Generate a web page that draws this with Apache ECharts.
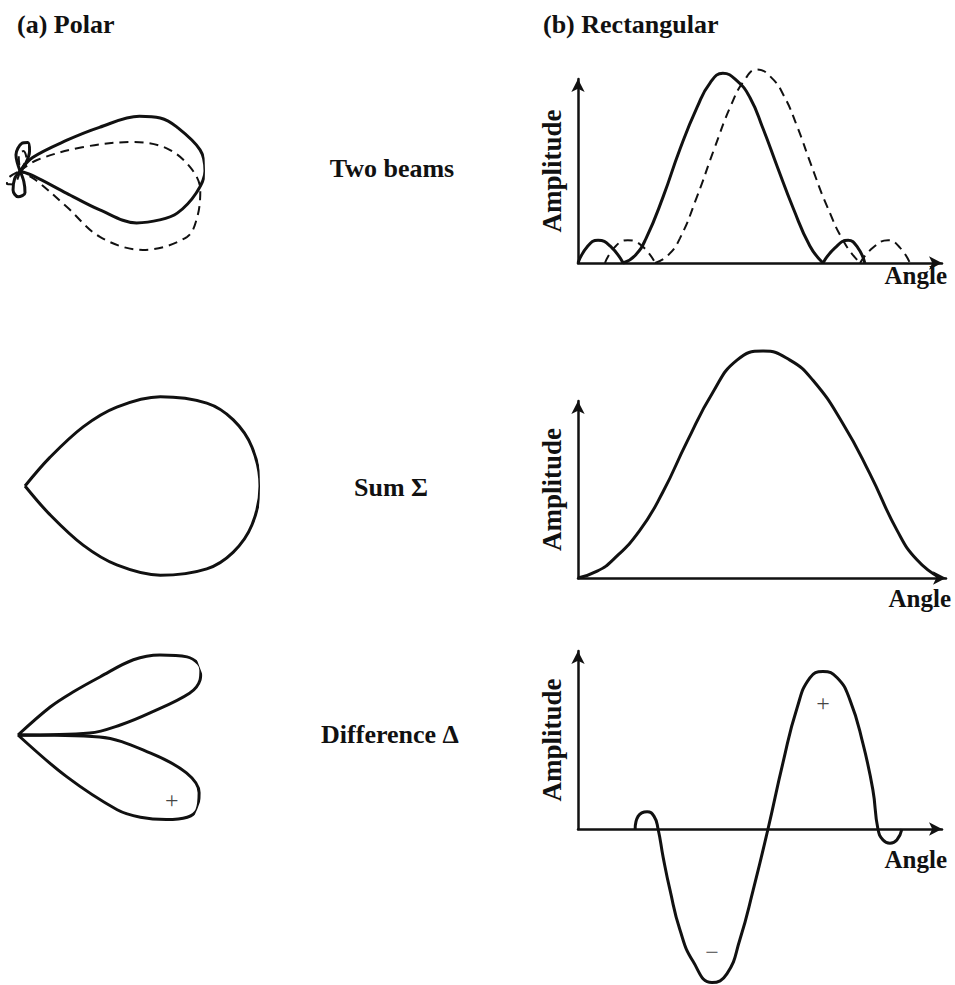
<!DOCTYPE html>
<html>
<head>
<meta charset="utf-8">
<script src="https://cdn.jsdelivr.net/npm/echarts@6/dist/echarts.min.js"></script>
<style>
  html, body { margin: 0; padding: 0; background: #fff; }
  #chart { width: 955px; height: 985px; }
</style>
</head>
<body>
<div id="chart"></div>
<script>
// ---- Rectangular patterns: angle 0–100 (arbitrary units), amplitude normalised to the main-lobe peak ----
const beamAX = [0, 2.7, 5.5, 8.8, 12.4, 15.7, 18.7, 23.4, 28.0, 32.7, 36.3, 39.8, 43.7, 47.3, 50.8, 54.7, 59.1, 63.7, 67.3, 70.6, 74.2, 76.9, 78.8];
const beamAY = [0, 0.09, 0.12, 0.09, 0, 0.04, 0.13, 0.35, 0.60, 0.82, 0.95, 1.0, 0.96, 0.87, 0.71, 0.51, 0.29, 0.09, 0, 0.08, 0.12, 0.08, 0];
const beamBX = [7.4, 10.4, 13.7, 17.6, 21.2, 24.7, 28.0, 32.7, 37.4, 42.0, 45.6, 49.2, 53.0, 56.6, 60.2, 64.0, 68.4, 73.4, 77.5, 81.0, 85.2, 88.5, 91.2];
const beamBY = [0, 0.09, 0.12, 0.09, 0, 0.04, 0.13, 0.35, 0.60, 0.83, 0.96, 1.02, 0.98, 0.88, 0.72, 0.52, 0.30, 0.10, 0, 0.08, 0.12, 0.08, 0];
const sumX = [0, 5.2, 9.5, 16.8, 23.1, 29.6, 36.7, 43.2, 50.3, 57.6, 63.9, 72.0, 79.3, 86.7, 92.1, 98.4];
const sumY = [0, 0.03, 0.08, 0.21, 0.38, 0.60, 0.82, 0.96, 1.0, 0.96, 0.87, 0.68, 0.46, 0.21, 0.08, 0];
const diffX = [15.7, 16.5, 19.0, 20.9, 22.0, 23.4, 25.3, 28.0, 31.6, 36.8, 40.9, 44.5, 48.1, 52.2, 56.3, 60.2, 63.7, 67.3, 71.2, 74.7, 78.3, 81.0, 82.4, 83.8, 85.7, 87.6, 89.0];
const diffY = [0, 0.08, 0.11, 0.08, 0, -0.18, -0.39, -0.64, -0.84, -0.975, -0.92, -0.70, -0.39, 0, 0.42, 0.77, 0.96, 1.0, 0.96, 0.82, 0.54, 0.25, 0, -0.07, -0.09, -0.07, 0];
const diffSigns = [['+', 67.3, 0.80], ['\u2212', 36.8, -0.78]];

// ---- Polar patterns: angle in degrees (0 = boresight), radius normalised ----
const polarAAng = [47, 47, 33.4, 28.8, 24.6, 20.7, 15.7, 6.7, 0, -7.1, -15, -19.3, -24, -26, -25.5, -20, -20];
const polarARad = [0, 0.10, 0.30, 0.49, 0.71, 0.81, 0.88, 0.98, 1.0, 0.96, 0.88, 0.80, 0.69, 0.48, 0.28, 0.08, 0];
const polarASideUpAng = [50, 50, 64.5, 74.6, 86, 104, 115];
const polarASideUpRad = [0, 0.04, 0.12, 0.16, 0.15, 0.09, 0];
const polarASideLoAng = [-65, -70, -77, -94, -110, -125, -135];
const polarASideLoRad = [0, 0.06, 0.12, 0.14, 0.11, 0.05, 0];
const polarBAng = [40, 32.9, 20.9, 14.4, 8.9, 1.3, -6, -14.5, -21.6, -32.7, -39.5, -37.5, -30, -28];
const polarBRad = [0, 0.11, 0.36, 0.63, 0.80, 0.92, 0.98, 0.99, 0.97, 0.79, 0.56, 0.32, 0.10, 0];
const polarBSideUpAng = [55, 65, 80, 95, 105];
const polarBSideUpRad = [0, 0.08, 0.11, 0.08, 0];
const polarBSideLoAng = [-100, -115, -135, -150, -160];
const polarBSideLoRad = [0, 0.08, 0.10, 0.07, 0];
const polarSumAng = [51, 49, 45.5, 40.7, 33.4, 24.5, 17.6, 9.7, 0, -9.7, -17.6, -24.5, -33.4, -40.7, -45.5, -49, -51];
const polarSumRad = [0, 0.16, 0.353, 0.515, 0.69, 0.85, 0.93, 0.98, 1.0, 0.98, 0.93, 0.85, 0.69, 0.515, 0.353, 0.16, 0];
const polarDiffUpAng = [0, 1.6, 5.6, 9.5, 13.7, 16.8, 19.5, 21.6, 24.8, 29.4, 33.1, 35.3, 38, 41, 44];
const polarDiffUpRad = [0, 0.37, 0.53, 0.69, 0.91, 0.98, 1.0, 1.0, 0.96, 0.84, 0.71, 0.52, 0.36, 0.22, 0];
const polarDiffLoAng = [0, -1.4, -7.8, -12.7, -17.7, -22.7, -25.9, -29.7, -33.9, -37, -40.6, -43];
const polarDiffLoRad = [0, 0.42, 0.69, 0.89, 0.98, 1.0, 0.97, 0.88, 0.76, 0.64, 0.33, 0];
const polarDiffSign = ['+', -22.9, 0.86];

const SERIF = '"Liberation Serif", "Times New Roman", serif';
const INK = '#111';

// Split a rectified pattern into lobes at its interior nulls so each null keeps a sharp cusp.
function lobes(xs, ys, split) {
  const segs = [];
  let cur = [];
  xs.forEach((x, i) => {
    cur.push([x, ys[i]]);
    if (split && ys[i] === 0 && i > 0 && i < xs.length - 1) {
      segs.push(cur);
      cur = [[x, ys[i]]];
    }
  });
  segs.push(cur);
  return segs;
}

function rectSeries(xs, ys, gi, split, style) {
  return lobes(xs, ys, split).map(seg => ({
    type: 'line', xAxisIndex: gi, yAxisIndex: gi, data: seg,
    smooth: 0.5, showSymbol: false, clip: false, silent: true,
    lineStyle: style, z: 3
  }));
}

function polarSeries(angs, rads, pi, style) {
  return {
    type: 'line', coordinateSystem: 'polar', polarIndex: pi,
    data: angs.map((a, i) => [rads[i], a]),
    smooth: 0.35, showSymbol: false, clip: false, silent: true,
    lineStyle: style, z: 3
  };
}

const solid = { color: INK, width: 3 };
const dashed = { color: INK, width: 2, type: [9, 6] };

const grids = [
  { left: 578, top: 79, width: 364, height: 184 },
  { left: 578, top: 401, width: 368, height: 177 },
  { left: 578, top: 651, width: 364, height: 178 }
];
const yMax = [0.97, 0.78, 1.13];
const anglePad = [0, 8, 18];

const axisLine = {
  show: true, onZero: false,
  lineStyle: { color: INK, width: 2.5 },
  symbol: ['none', 'arrow'], symbolSize: [10, 13]
};

const xAxes = grids.map((g, i) => ({
  type: 'value', gridIndex: i, min: 0, max: 100,
  axisLine, axisTick: { show: false }, axisLabel: { show: false }, splitLine: { show: false },
  name: 'Angle', nameLocation: 'end', nameGap: 5,
  nameTextStyle: {
    fontFamily: SERIF, fontWeight: 'bold', fontSize: 25, color: INK,
    align: 'right', verticalAlign: 'top', padding: [anglePad[i], 0, 0, 0]
  }
}));
const yAxes = grids.map((g, i) => ({
  type: 'value', gridIndex: i, min: 0, max: yMax[i],
  axisLine, axisTick: { show: false }, axisLabel: { show: false }, splitLine: { show: false },
  name: 'Amplitude', nameLocation: 'middle', nameRotate: 90, nameGap: 13,
  nameTextStyle: { fontFamily: SERIF, fontWeight: 'bold', fontSize: 27, color: INK }
}));

const polars = [
  { center: [20, 171], radius: 185 },
  { center: [25, 486], radius: 235 },
  { center: [18, 735], radius: 194 }
];
const angleAxes = polars.map((p, i) => ({
  polarIndex: i, type: 'value', min: -180, max: 180, startAngle: 180, clockwise: false, show: false
}));
const radiusAxes = polars.map((p, i) => ({
  polarIndex: i, type: 'value', min: 0, max: 1, show: false
}));

const signLabel = {
  show: true, position: 'inside', formatter: p => p.data[2],
  fontFamily: SERIF, fontSize: 24, color: INK, textBorderWidth: 0
};

const series = [
  ...rectSeries(beamAX, beamAY, 0, true, solid),
  ...rectSeries(beamBX, beamBY, 0, true, dashed),
  ...rectSeries(sumX, sumY, 1, false, solid),
  ...rectSeries(diffX, diffY, 2, false, solid),
  {
    type: 'scatter', xAxisIndex: 2, yAxisIndex: 2, symbolSize: 1, clip: false,
    itemStyle: { color: 'rgba(0,0,0,0)' }, silent: true,
    data: diffSigns.map(s => [s[1], s[2], s[0]]), label: signLabel
  },
  polarSeries(polarAAng, polarARad, 0, solid),
  polarSeries(polarASideUpAng, polarASideUpRad, 0, solid),
  polarSeries(polarASideLoAng, polarASideLoRad, 0, solid),
  polarSeries(polarBAng, polarBRad, 0, dashed),
  polarSeries(polarBSideUpAng, polarBSideUpRad, 0, dashed),
  polarSeries(polarBSideLoAng, polarBSideLoRad, 0, dashed),
  polarSeries(polarSumAng, polarSumRad, 1, solid),
  polarSeries(polarDiffUpAng, polarDiffUpRad, 2, solid),
  polarSeries(polarDiffLoAng, polarDiffLoRad, 2, solid),
  {
    type: 'scatter', coordinateSystem: 'polar', polarIndex: 2, symbolSize: 1, clip: false,
    itemStyle: { color: 'rgba(0,0,0,0)' }, silent: true,
    data: [[polarDiffSign[2], polarDiffSign[1], polarDiffSign[0]]], label: signLabel
  }
];

function txt(text, x, y, align) {
  return {
    type: 'text', x, y, silent: true,
    style: {
      text, fill: INK, font: 'bold 26px ' + SERIF,
      textAlign: align, textVerticalAlign: 'middle', align, verticalAlign: 'middle'
    }
  };
}

const chart = echarts.init(document.getElementById('chart'), null, { renderer: 'svg' });
chart.setOption({
  backgroundColor: '#fff',
  animation: false,
  grid: grids,
  xAxis: xAxes,
  yAxis: yAxes,
  polar: polars,
  angleAxis: angleAxes,
  radiusAxis: radiusAxes,
  series,
  graphic: [
    txt('(a) Polar', 17, 24, 'left'),
    txt('(b) Rectangular', 543, 24, 'left'),
    txt('Two beams', 392, 168, 'center'),
    txt('Sum \u03A3', 391, 487, 'center'),
    txt('Difference \u0394', 390, 734, 'center')
  ]
});
</script>
</body>
</html>
